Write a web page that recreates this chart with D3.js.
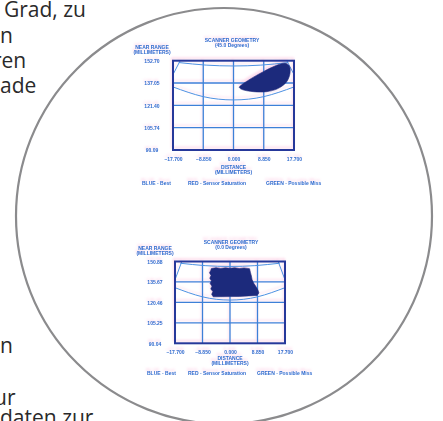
<!DOCTYPE html>
<html>
<head>
<meta charset="utf-8">
<script src="https://cdn.jsdelivr.net/npm/d3@7"></script>
<style>
  html, body { margin: 0; padding: 0; background: #fff; }
  svg { display: block; }
</style>
</head>
<body>
<script>
// ---- data -------------------------------------------------------------
const xTicks = [-17.7, -8.85, 0, 8.85, 17.7];
const topYTicks = [90.09, 105.74, 121.40, 137.05, 152.70];
const botYTicks = [90.04, 105.25, 120.46, 135.67, 150.88];

const topTitle = ["SCANNER GEOMETRY", "(45.0 Degrees)"];
const botTitle = ["SCANNER GEOMETRY", "(0.0 Degrees)"];
const yTitle = ["NEAR RANGE", "(MILLIMETERS)"];
const xTitle = ["DISTANCE", "(MILLIMETERS)"];
const legendItems = ["BLUE - Best", "RED - Sensor Saturation", "GREEN - Possible Miss"];

// measured coverage region, [distance, range]
const topBlob = [
  [1.70, 134.0], [2.40, 132.6], [5.80, 131.0], [9.72, 131.0], [13.11, 133.3],
  [15.57, 138.0], [16.53, 143.9], [16.33, 149.0], [15.07, 150.9], [12.14, 149.0],
  [8.72, 145.0], [4.83, 139.7], [2.40, 135.8]
];
const botBlob = [
  [-6.0, 145.6], [-4.5, 146.3], [-3.0, 145.7], [-1.5, 146.2], [0.0, 145.8],
  [1.5, 146.3], [3.0, 145.6], [4.5, 146.1], [6.3, 145.5],
  [6.6, 142.5], [6.9, 140.0], [7.1, 137.5], [7.6, 134.8], [8.3, 132.4],
  [9.0, 129.6], [9.3, 127.5], [8.7, 125.6],
  [6.0, 125.3], [3.0, 124.9], [0.0, 124.8], [-3.0, 124.7], [-5.4, 124.6],
  [-5.9, 126.5], [-5.5, 128.5], [-6.2, 130.5], [-5.8, 132.5], [-6.4, 134.5],
  [-6.0, 136.5], [-6.5, 138.5], [-6.1, 140.5], [-6.6, 142.5], [-6.2, 144.2]
];

// field-of-view boundaries, [distance, range]
const topNearArc = [[-16, 151.4], [-8, 149.6], [0, 149.0], [8, 149.6], [16, 151.4]];
const topFarArc = [[-17.7, 134.3], [-8.85, 127.5], [0, 125.2], [8.85, 127.5], [17.7, 134.3]];
const topLeftEdge = [[-15.6, 152.7], [-17.7, 143.0]];
const topRightEdge = [[15.6, 152.7], [17.7, 143.0]];
const botNearArc = [[-16, 149.6], [-8, 147.8], [0, 147.2], [8, 147.8], [16, 149.6]];
const botFarArc = [[-17.7, 131.4], [-8.85, 124.6], [0, 122.2], [8.85, 124.6], [17.7, 131.4]];
const botLeftEdge = [[-15.5, 150.9], [-17.7, 137.3]];
const botRightEdge = [[15.5, 150.9], [17.7, 137.3]];

// paragraph fragments beside the lens
const pageLines = [
  { t: "Grad, zu", x: 4, y: 17 },
  { t: "n", x: 0, y: 43 },
  { t: "ren", x: -7, y: 68 },
  { t: "ade", x: 0, y: 93 },
  { t: "n", x: 0, y: 353 },
  { t: "ur", x: -6, y: 405 },
  { t: "daten zur", x: 0, y: 425 }
];

// ---- drawing ----------------------------------------------------------
const W = 443, H = 421;
const svg = d3.select("body").append("svg").attr("width", W).attr("height", H);
const defs = svg.append("defs");

defs.append("filter").attr("id", "soft")
  .append("feGaussianBlur").attr("stdDeviation", 0.7);

const ghost = defs.append("filter").attr("id", "ghost");
ghost.append("feColorMatrix").attr("type", "matrix")
  .attr("values", "0 0 0 0 0.96  0 0 0 0 0.52  0 0 0 0 0.72  0 0 0 0.55 0");
ghost.append("feGaussianBlur").attr("stdDeviation", 0.9);

const INK = "#2f6ccf", FRAME = "#25399a", GRID = "#3d80d8", ARC = "#4d92e2", BLOB = "#1e2a7c";
const FONT = "'Liberation Sans', Arial, sans-serif";

function panel(id, cfg) {
  const x = d3.scaleLinear().domain([xTicks[0], xTicks[xTicks.length - 1]]).range([cfg.x0, cfg.x1]);
  const y = d3.scaleLinear().domain([cfg.yTicks[0], cfg.yTicks[cfg.yTicks.length - 1]]).range([cfg.y1, cfg.y0]);

  // pink misregistration copy under the chart
  svg.append("use").attr("href", "#" + id)
    .attr("transform", "translate(-1,-2.4)")
    .attr("filter", "url(#ghost)");

  const g = svg.append("g").attr("id", id).attr("filter", "url(#soft)");

  defs.append("clipPath").attr("id", id + "-clip")
    .append("rect").attr("x", cfg.x0).attr("y", cfg.y0)
    .attr("width", cfg.x1 - cfg.x0).attr("height", cfg.y1 - cfg.y0);

  const plot = g.append("g").attr("clip-path", `url(#${id}-clip)`);

  // grid
  plot.selectAll(".gx").data(xTicks.slice(1, -1)).join("line")
    .attr("x1", d => x(d)).attr("x2", d => x(d))
    .attr("y1", cfg.y0).attr("y2", cfg.y1)
    .attr("stroke", GRID).attr("stroke-width", 1.3);
  plot.selectAll(".gy").data(cfg.yTicks.slice(1, -1)).join("line")
    .attr("y1", d => y(d)).attr("y2", d => y(d))
    .attr("x1", cfg.x0).attr("x2", cfg.x1)
    .attr("stroke", GRID).attr("stroke-width", 1.3);

  // field-of-view outline
  const curve = d3.line().x(d => x(d[0])).y(d => y(d[1])).curve(d3.curveNatural);
  [cfg.near, cfg.far, cfg.left, cfg.right].forEach(p => {
    plot.append("path").attr("d", curve(p))
      .attr("fill", "none").attr("stroke", ARC).attr("stroke-width", 1);
  });

  // coverage region
  const area = d3.line().x(d => x(d[0])).y(d => y(d[1])).curve(cfg.blobCurve);
  plot.append("path").attr("d", area(cfg.blob))
    .attr("fill", BLOB).attr("stroke", BLOB).attr("stroke-width", 0.6);

  // frame
  g.append("rect").attr("x", cfg.x0).attr("y", cfg.y0)
    .attr("width", cfg.x1 - cfg.x0).attr("height", cfg.y1 - cfg.y0)
    .attr("fill", "none").attr("stroke", FRAME).attr("stroke-width", 2);

  // axes (labels only)
  const ax = g.append("g").attr("transform", `translate(0,${cfg.y1})`)
    .call(d3.axisBottom(x).tickValues(xTicks).tickSize(0).tickPadding(7).tickFormat(d3.format(".3f")));
  const ay = g.append("g").attr("transform", `translate(${cfg.x0},0)`)
    .call(d3.axisLeft(y).tickValues(cfg.yTicks).tickSize(0).tickPadding(0).tickFormat(d3.format(".2f")));
  [ax, ay].forEach(a => {
    a.select(".domain").remove();
    a.selectAll("text").attr("fill", INK).attr("font-family", FONT)
      .attr("font-size", 5).attr("font-weight", "bold");
  });
  ay.selectAll("text").attr("text-anchor", "middle").attr("x", cfg.yLabelX - cfg.x0).attr("dy", "0.35em");

  const txt = (s, tx, ty, anchor = "middle") => g.append("text")
    .attr("x", tx).attr("y", ty).attr("text-anchor", anchor)
    .attr("fill", INK).attr("font-family", FONT).attr("font-size", 5)
    .attr("font-weight", "bold").text(s);

  txt(cfg.title[0], cfg.titleX, cfg.titleY);
  txt(cfg.title[1], cfg.titleX, cfg.titleY + 5);
  txt(yTitle[0], cfg.yLabelX, cfg.yTitleY);
  txt(yTitle[1], cfg.yLabelX, cfg.yTitleY + 5);
  txt(xTitle[0], (cfg.x0 + cfg.x1) / 2, cfg.xTitleY);
  txt(xTitle[1], (cfg.x0 + cfg.x1) / 2, cfg.xTitleY + 5);
  legendItems.forEach((s, i) => txt(s, cfg.legendX[i], cfg.legendY, "start"));
}

panel("upper", {
  x0: 173, x1: 294, y0: 60.7, y1: 150, yTicks: topYTicks,
  blob: topBlob, blobCurve: d3.curveCatmullRomClosed,
  near: topNearArc, far: topFarArc, left: topLeftEdge, right: topRightEdge,
  title: topTitle, titleX: 232, titleY: 42,
  yLabelX: 152, yTitleY: 49,
  xTitleY: 168.5, legendY: 184.5, legendX: [142, 188, 266]
});

panel("lower", {
  x0: 175, x1: 285, y0: 261.5, y1: 343.3, yTicks: botYTicks,
  blob: botBlob, blobCurve: d3.curveLinearClosed,
  near: botNearArc, far: botFarArc, left: botLeftEdge, right: botRightEdge,
  title: botTitle, titleX: 231, titleY: 243.5,
  yLabelX: 155, yTitleY: 250,
  xTitleY: 359.5, legendY: 374.5, legendX: [147, 188, 257]
});

// lens outline
svg.append("circle").attr("cx", 224).attr("cy", 216).attr("r", 208)
  .attr("fill", "none").attr("stroke", "#8b8b8d").attr("stroke-width", 2.2);

// surrounding page text
svg.append("g").selectAll("text").data(pageLines).join("text")
  .attr("x", d => d.x).attr("y", d => d.y)
  .attr("font-family", "'Open Sans', 'Noto Sans', sans-serif")
  .attr("font-size", 21).attr("fill", "#2a2a2a")
  .text(d => d.t);
</script>
</body>
</html>
